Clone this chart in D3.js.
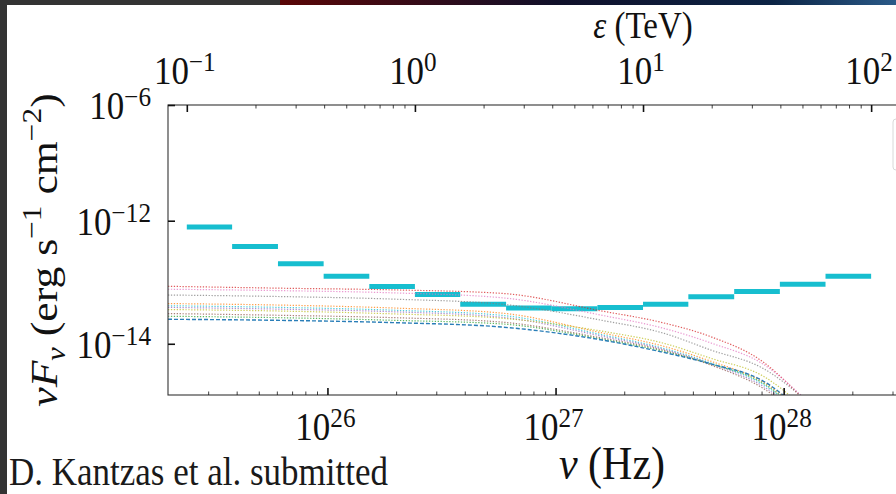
<!DOCTYPE html>
<html>
<head>
<meta charset="utf-8">
<script src="https://cdn.jsdelivr.net/npm/d3@7"></script>
<style>
  body { margin: 0; background: #2e2e2e; }
  svg { display: block; }
  text { font-family: "Liberation Serif", "DejaVu Serif", serif; fill: #111; }
</style>
</head>
<body>
<svg id="chart" width="896" height="494"></svg>
<script>
// 1 TeV in Hz (E = h nu)
var TeVtoHz = 2.418e26;

// sensitivity bins (TeV edges) and flux (erg s^-1 cm^-2)
var binEdgesTeV = [0.1, 0.158, 0.251, 0.398, 0.631, 1.0, 1.58, 2.51, 3.98, 6.31, 10, 15.8, 25.1, 39.8, 63.1, 100];
var sensFlux = [7.9e-13, 3.8e-13, 2.0e-13, 1.25e-13, 8.5e-14, 6.3e-14, 4.4e-14, 3.8e-14, 3.7e-14, 3.9e-14, 4.4e-14, 5.8e-14, 7.1e-14, 9.3e-14, 1.25e-13];

// model spectra, sampled at these frequencies (Hz)
var modelNu = [2.0e25, 6.3e25, 2.0e26, 5.8e26, 1.6e27, 2.95e27, 4.8e27, 8.1e27, 1.26e28];
var modelRed    = [8.6e-14, 8.0e-14, 7.5e-14, 6.6e-14, 3.4e-14, 2.2e-14, 1.3e-14, 5.1e-15, 1.1e-15];
var modelPink   = [7.7e-14, 7.3e-14, 6.7e-14, 5.6e-14, 2.9e-14, 1.8e-14, 1.03e-14, 4.7e-15, 1.2e-15];
var modelGray   = [6.2e-14, 5.85e-14, 5.3e-14, 4.4e-14, 2.4e-14, 1.5e-14, 7.9e-15, 4.0e-15, 1.2e-15];
var modelOrange = [4.5e-14, 4.25e-14, 3.8e-14, 3.15e-14, 1.5e-14, 9.2e-15, 5.2e-15, 2.4e-15, 6.9e-16];
var modelCyan   = [4.15e-14, 3.9e-14, 3.5e-14, 2.9e-14, 1.4e-14, 8.5e-15, 4.85e-15, 2.2e-15, 6.2e-16];
var modelPurple = [3.9e-14, 3.65e-14, 3.3e-14, 2.7e-14, 1.33e-14, 8.2e-15, 4.7e-15, 2.05e-15, 5.8e-16];
var modelOlive  = [3.6e-14, 3.4e-14, 3.05e-14, 2.6e-14, 1.6e-14, 1.03e-14, 5.8e-15, 3.0e-15, 8.4e-16];
var modelBrown  = [3.1e-14, 2.9e-14, 2.65e-14, 2.25e-14, 1.24e-14, 7.9e-15, 4.5e-15, 1.9e-15, 5.4e-16];
var modelGreen  = [2.8e-14, 2.65e-14, 2.4e-14, 2.1e-14, 1.19e-14, 7.6e-15, 4.7e-15, 2.3e-15, 6.2e-16];
var modelBlue   = [2.5e-14, 2.4e-14, 2.2e-14, 1.87e-14, 1.15e-14, 7.3e-15, 4.7e-15, 2.5e-15, 6.9e-16];

var models = [modelRed, modelPink, modelGray, modelOrange, modelCyan, modelPurple, modelOlive, modelBrown, modelGreen, modelBlue];
var modelColors = ['#d62728', '#e377c2', '#7f7f7f', '#ff7f0e', '#17becf', '#9467bd', '#bcbd22', '#8c564b', '#2ca02c', '#1f77b4'];

// axes
var xMajorHz = [1e26, 1e27, 1e28];
var xMajorLabels = ['26', '27', '28'];
var xMinorHz = [3e25, 4e25, 5e25, 6e25, 7e25, 8e25, 9e25, 2e26, 3e26, 4e26, 5e26, 6e26, 7e26, 8e26, 9e26,
  2e27, 3e27, 4e27, 5e27, 6e27, 7e27, 8e27, 9e27, 2e28, 3e28];
var topMajorTeV = [0.1, 1, 10, 100];
var topMajorLabels = ['\u22121', '0', '1', '2'];
var topMinorTeV = [0.2, 0.3, 0.4, 0.5, 0.6, 0.7, 0.8, 0.9, 2, 3, 4, 5, 6, 7, 8, 9,
  20, 30, 40, 50, 60, 70, 80, 90, 200];
var yDomain = [1.47e-15, 7.6e-11];
var yTickValues = [1e-14, 1e-12, 7.6e-11];
var yTickLabels = ['\u221214', '\u221212', '\u22126'];

var svg = d3.select('#chart');
var plot = {left: 168, top: 105, bottom: 395, right: 921};

// slide background
var defs = svg.append('defs');
var grad = defs.append('linearGradient').attr('id', 'topbar');
grad.append('stop').attr('offset', '0%').attr('stop-color', '#5a0606');
grad.append('stop').attr('offset', '45%').attr('stop-color', '#10102a');
grad.append('stop').attr('offset', '80%').attr('stop-color', '#0c2445');
grad.append('stop').attr('offset', '100%').attr('stop-color', '#2a5a88');
svg.append('rect').attr('width', 896).attr('height', 494).attr('fill', '#333333');
svg.append('rect').attr('x', 280).attr('width', 616).attr('height', 6).attr('fill', 'url(#topbar)');
svg.append('rect').attr('x', 7).attr('y', 5).attr('width', 889).attr('height', 489).attr('fill', '#ffffff');

defs.append('clipPath').attr('id', 'clip')
  .append('rect')
  .attr('x', plot.left).attr('y', plot.top)
  .attr('width', plot.right - plot.left).attr('height', plot.bottom - plot.top);

var x = d3.scaleLog().domain([2e25, 4e28]).range([plot.left, plot.right]);
var xTeV = d3.scaleLog().domain([2e25 / TeVtoHz, 4e28 / TeVtoHz]).range([plot.left, plot.right]);
var y = d3.scaleLog().domain(yDomain).range([plot.bottom, plot.top]);

// legend frame, cut by the slide edge
svg.append('rect').attr('x', 893).attr('y', 119).attr('width', 40).attr('height', 51)
  .attr('rx', 3).attr('fill', '#fff').attr('stroke', '#d8d8d8');

var data = svg.append('g').attr('clip-path', 'url(#clip)');

// sensitivity bins
data.selectAll('line.bin')
  .data(sensFlux)
  .enter()
  .append('line')
  .attr('class', 'bin')
  .attr('x1', function(d, i) { return x(binEdgesTeV[i] * TeVtoHz); })
  .attr('x2', function(d, i) { return x(binEdgesTeV[i + 1] * TeVtoHz); })
  .attr('y1', function(d) { return y(d); })
  .attr('y2', function(d) { return y(d); })
  .attr('stroke', '#17becf')
  .attr('stroke-width', 5);

// model curves
var line = d3.line()
  .x(function(d, i) { return x(modelNu[i]); })
  .y(function(d) { return y(d); })
  .curve(d3.curveMonotoneX);

data.selectAll('path.model')
  .data(models)
  .enter()
  .append('path')
  .attr('class', 'model')
  .attr('d', line)
  .attr('fill', 'none')
  .attr('stroke', function(d, i) { return modelColors[i]; })
  .attr('stroke-opacity', function(d, i) { return i == models.length - 1 ? 0.95 : 0.75; })
  .attr('stroke-width', function(d, i) { return i == models.length - 1 ? 1.4 : 1.2; })
  .attr('stroke-dasharray', function(d, i) { return i == models.length - 1 ? '4,2' : '1.3,1.6'; });

// frame
svg.append('rect')
  .attr('x', plot.left).attr('y', plot.top)
  .attr('width', plot.right - plot.left).attr('height', plot.bottom - plot.top)
  .attr('fill', 'none').attr('stroke', '#333').attr('stroke-width', 1.1);

function tickAxis(axis, transform, width) {
  var g = svg.append('g').attr('transform', transform).call(axis);
  g.select('.domain').remove();
  g.selectAll('text').remove();
  g.selectAll('line').attr('stroke', '#111').attr('stroke-width', width);
  return g;
}

tickAxis(d3.axisBottom(x).tickValues(xMajorHz).tickSize(-7), 'translate(0,' + plot.bottom + ')', 1.6);
tickAxis(d3.axisBottom(x).tickValues(xMinorHz).tickSize(-3.5), 'translate(0,' + plot.bottom + ')', 0.8);
tickAxis(d3.axisTop(xTeV).tickValues(topMajorTeV).tickSize(-7), 'translate(0,' + plot.top + ')', 1.6);
tickAxis(d3.axisTop(xTeV).tickValues(topMinorTeV).tickSize(-3.5), 'translate(0,' + plot.top + ')', 0.8);
tickAxis(d3.axisLeft(y).tickValues(yTickValues).tickSize(-7), 'translate(' + plot.left + ',0)', 1.6);

// labels like 10^26
function powLabel(px, py, exp, anchor, size) {
  var t = svg.append('text')
    .attr('transform', 'translate(' + px + ',' + py + ') scale(1,1.12)')
    .attr('text-anchor', anchor)
    .style('font-size', size + 'px');
  t.append('tspan').text('10');
  t.append('tspan').attr('dy', -0.32 * size).style('font-size', (size * 0.72) + 'px').text(exp);
}

xMajorHz.forEach(function(v, i) { powLabel(x(v) - 2, 440, xMajorLabels[i], 'middle', 35); });
topMajorTeV.forEach(function(v, i) { powLabel(xTeV(v) - 2, 84, topMajorLabels[i], 'middle', 35); });
yTickValues.forEach(function(v, i) { powLabel(151, y(v) + 14, yTickLabels[i], 'end', 35); });

// axis titles
var tTop = svg.append('text')
  .attr('transform', 'translate(643,38) scale(1,1.12)')
  .attr('text-anchor', 'middle').style('font-size', '33px');
tTop.append('tspan').style('font-style', 'italic').text('\u03b5');
tTop.append('tspan').text(' (TeV)');

var tBot = svg.append('text')
  .attr('transform', 'translate(612,479) scale(1,1.12)')
  .attr('text-anchor', 'middle').style('font-size', '42px');
tBot.append('tspan').style('font-style', 'italic').text('\u03bd');
tBot.append('tspan').text(' (Hz)');

var tLeft = svg.append('text')
  .attr('transform', 'translate(57,250) scale(1,1.12) rotate(-90)')
  .attr('text-anchor', 'middle').style('font-size', '39px');
tLeft.append('tspan').style('font-style', 'italic').text('\u03bdF');
tLeft.append('tspan').style('font-style', 'italic').style('font-size', '27px').attr('dy', 8).text('\u03bd');
tLeft.append('tspan').attr('dy', -8).text(' (erg s');
tLeft.append('tspan').style('font-size', '28px').attr('dy', -16).text('\u22121');
tLeft.append('tspan').attr('dy', 16).text(' cm');
tLeft.append('tspan').style('font-size', '28px').attr('dy', -16).text('\u22122');
tLeft.append('tspan').attr('dy', 16).text(')');

// credit
svg.append('text')
  .attr('transform', 'translate(9,485) scale(1,1.15)')
  .style('font-size', '35px').style('fill', '#1a1a1a')
  .text('D. Kantzas et al. submitted');
</script>
</body>
</html>
